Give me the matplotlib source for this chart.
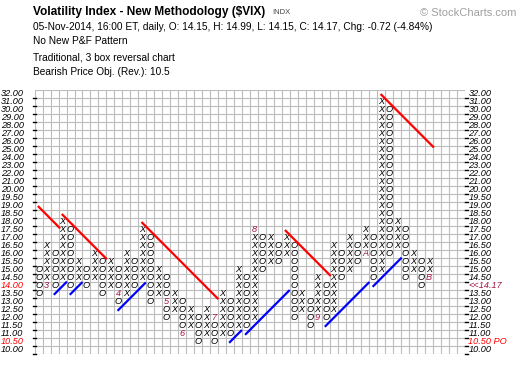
import matplotlib
matplotlib.use("Agg")
import matplotlib.pyplot as plt

# price boxes (0.5 up to 20, then 1.0)
box_levels = [10.0, 10.5, 11.0, 11.5, 12.0, 12.5, 13.0, 13.5, 14.0, 14.5, 15.0,
              15.5, 16.0, 16.5, 17.0, 17.5, 18.0, 18.5, 19.0, 19.5, 20.0,
              21.0, 22.0, 23.0, 24.0, 25.0, 26.0, 27.0, 28.0, 29.0, 30.0, 31.0, 32.0]

# P&F columns, first one is an O column, then alternating
first_col = "O"
col_low = [13.5, 14.0, 14.0, 14.5, 14.0, 14.5, 14.0, 14.5, 13.5, 14.0,
           13.0, 13.5, 14.0, 14.5, 13.0, 13.5, 12.0, 12.5, 11.0, 11.5,
           10.5, 11.0, 10.5, 11.0, 11.0, 11.5, 11.5, 12.0, 15.0, 15.5,
           15.5, 16.0, 12.0, 12.5, 11.5, 12.0, 12.0, 12.5, 14.5, 15.0,
           15.5, 16.0, 14.5, 15.0, 16.0, 16.5, 14.5, 15.0, 14.0, 14.5]
col_high = [15.0, 16.5, 16.0, 18.0, 17.5, 15.5, 15.0, 16.0, 15.5, 15.5,
            15.0, 16.0, 15.5, 17.5, 17.0, 15.0, 14.5, 13.5, 13.0, 12.5,
            12.0, 12.5, 12.0, 13.5, 13.0, 15.0, 14.5, 17.5, 17.0, 17.0,
            16.5, 17.0, 16.5, 13.5, 13.0, 14.5, 14.0, 16.5, 16.0, 17.0,
            16.5, 17.5, 17.0, 31.0, 30.0, 18.0, 17.5, 16.0, 15.5, 15.5]

# month markers: (column, price, char)
month_marks = [(1, 14.0, "3"), (10, 13.5, "4"), (16, 13.0, "5"), (18, 11.0, "6"),
               (22, 12.0, "7"), (27, 17.5, "8"), (35, 12.0, "9"), (41, 16.0, "A"),
               (49, 14.5, "B")]

# trend lines: (start column, start price box, length in boxes)
red_trend = [(0, 19.0, 2.8), (3, 18.5, 5.65), (13, 18.0, 9.65), (31, 17.5, 5.75),
             (43, 32.0, 6.7)]
blue_trend = [(2, 13.5, 1.65), (4, 13.5, 1.6), (10, 12.5, 3.55), (24, 10.5, 1.6),
              (26, 11.0, 5.6), (36, 11.5, 5.6), (42, 14.0, 3.65)]

last_close = 14.17
price_obj = 10.5

W, H = 520, 378
n_cols = 54
fig = plt.figure(figsize=(W / 100, H / 100), dpi=100)
fig.patch.set_facecolor("white")
ax = fig.add_axes([34.67 / W, (H - 354) / H, 430.4 / W, 264 / H])
ax.set_xlim(-0.5, n_cols - 0.5)
ax.set_ylim(-0.5, len(box_levels) - 0.5)
ax.axis("off")

grid_c = "#bcbcbc"
for i in range(n_cols + 1):
    ax.plot([i - 0.5, i - 0.5], [-0.5, len(box_levels) - 0.5], color=grid_c, lw=0.8, zorder=1)
for j in range(len(box_levels) + 1):
    ax.plot([-0.5, n_cols - 0.5], [j - 0.5, j - 0.5], color=grid_c, lw=0.8, zorder=1)

row = {p: i for i, p in enumerate(box_levels)}
marks = {(c, row[p]): ch for c, p, ch in month_marks}

sym_font = dict(fontsize=6.6, style="italic", family="Liberation Sans", ha="center", va="center")
for c, (lo, hi) in enumerate(zip(col_low, col_high)):
    sym = first_col if c % 2 == 0 else ("X" if first_col == "O" else "O")
    for r in range(row[lo], row[hi] + 1):
        if (c, r) in marks:
            ax.text(c, r, marks[(c, r)], color="#a31545", zorder=3, **sym_font)
        else:
            ax.text(c, r, sym, color="black", zorder=3, **sym_font)

for c, p, n in red_trend:
    x0, y0 = c - 0.1, row[p]
    ax.plot([x0, x0 + n], [y0, y0 - n], color="#ff0000", lw=1.6, zorder=4,
            solid_capstyle="butt")
for c, p, n in blue_trend:
    x0, y0 = c - 0.1, row[p] - 0.1
    ax.plot([x0, x0 + n], [y0, y0 + n], color="#0000ff", lw=1.6, zorder=4,
            solid_capstyle="butt")

# axis labels and ticks
lab_font = dict(fontsize=6.6, style="italic", family="Liberation Sans", va="center")
close_row = row[max(p for p in box_levels if p <= last_close)]
for r, p in enumerate(box_levels):
    ax.plot([-0.75, -0.33], [r - 0.5, r - 0.5], color="black", lw=1, clip_on=False)
    ax.plot([n_cols - 0.5, n_cols - 0.15], [r - 0.5, r - 0.5], color="black", lw=1, clip_on=False)
    left_col = "#ff0000" if (r == close_row or p == price_obj) else "black"
    fig.text(1 / W, 1 - (350 - 8 * r) / H, f"{p:.2f}", color=left_col, ha="left", **lab_font)
    if r == close_row:
        txt, colr = f"<<{last_close:.2f}", "#a31545"
    elif p == price_obj:
        txt, colr = f"{p:.2f} PO", "#ff0000"
    else:
        txt, colr = f"{p:.2f}", "black"
    fig.text(468.5 / W, 1 - (350 - 8 * r) / H, txt, color=colr, ha="left", **lab_font)

# header
hdr = dict(family="Liberation Sans", ha="left", va="center", color="black")
fig.text(33 / W, 1 - 12 / H, "Volatility Index - New Methodology ($VIX)",
         fontsize=8.6, weight="bold", **hdr)
fig.text(272 / W, 1 - 12.5 / H, "INDX", fontsize=5.5, family="Liberation Sans",
         ha="left", va="center", color="#444444")
fig.text(33 / W, 1 - 27 / H,
         "05-Nov-2014, 16:00 ET, daily, O: 14.15, H: 14.99, L: 14.15, C: 14.17, Chg: -0.72 (-4.84%)",
         fontsize=7.3, **hdr)
fig.text(33 / W, 1 - 41 / H, "No New P&F Pattern", fontsize=7.3, **hdr)
fig.text(33 / W, 1 - 58 / H, "Traditional, 3 box reversal chart", fontsize=7.3, **hdr)
fig.text(33 / W, 1 - 72 / H, "Bearish Price Obj. (Rev.): 10.5", fontsize=7.3, **hdr)
fig.text(420 / W, 1 - 13 / H, "© StockCharts.com", fontsize=8.0, family="Liberation Sans",
         ha="left", va="center", color="#a0a0a0")

fig.savefig("out.png", dpi=100, facecolor="white")
